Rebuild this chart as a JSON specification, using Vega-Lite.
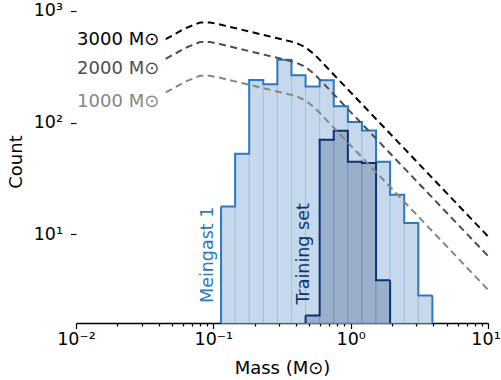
{
  "$schema": "https://vega.github.io/schema/vega-lite/v6.json",
  "width": 412,
  "height": 323,
  "autosize": {"type": "none"},
  "padding": {"left": 76, "top": 0, "right": 13, "bottom": 57},
  "config": {"font": "DejaVu Sans", "view": {"stroke": null}, "axis": {"grid": false}},
  "datasets": {
    "meingast": [
      {"lo": 0.1138, "hi": 0.1441, "n": 17.7},
      {"lo": 0.1441, "hi": 0.1825, "n": 52.5},
      {"lo": 0.1825, "hi": 0.2311, "n": 241},
      {"lo": 0.2311, "hi": 0.2926, "n": 221},
      {"lo": 0.2926, "hi": 0.3707, "n": 365},
      {"lo": 0.3707, "hi": 0.4694, "n": 266},
      {"lo": 0.4694, "hi": 0.5944, "n": 210},
      {"lo": 0.5944, "hi": 0.7528, "n": 240},
      {"lo": 0.7528, "hi": 0.9537, "n": 140},
      {"lo": 0.9537, "hi": 1.208, "n": 101},
      {"lo": 1.208, "hi": 1.53, "n": 84.9},
      {"lo": 1.53, "hi": 1.937, "n": 44.6},
      {"lo": 1.937, "hi": 2.454, "n": 22.5},
      {"lo": 2.454, "hi": 3.108, "n": 12.6},
      {"lo": 3.108, "hi": 3.936, "n": 2.82}
    ],
    "training": [
      {"lo": 0.4694, "hi": 0.5944, "n": 1.87},
      {"lo": 0.5944, "hi": 0.7528, "n": 70.2},
      {"lo": 0.7528, "hi": 0.9537, "n": 84.3},
      {"lo": 0.9537, "hi": 1.208, "n": 44.6},
      {"lo": 1.208, "hi": 1.53, "n": 43.4},
      {"lo": 1.53, "hi": 1.937, "n": 3.86}
    ],
    "imf": [
      {"series": "3000", "m": 0.04498, "n": 558},
      {"series": "3000", "m": 0.06217, "n": 697},
      {"series": "3000", "m": 0.07994, "n": 789},
      {"series": "3000", "m": 0.09456, "n": 789},
      {"series": "3000", "m": 0.1118, "n": 757},
      {"series": "3000", "m": 0.3932, "n": 522},
      {"series": "3000", "m": 0.465, "n": 476},
      {"series": "3000", "m": 0.5498, "n": 404},
      {"series": "3000", "m": 10, "n": 9.55},
      {"series": "2000", "m": 0.04498, "n": 372},
      {"series": "2000", "m": 0.06217, "n": 465},
      {"series": "2000", "m": 0.07994, "n": 526},
      {"series": "2000", "m": 0.09456, "n": 526},
      {"series": "2000", "m": 0.1118, "n": 505},
      {"series": "2000", "m": 0.3932, "n": 348},
      {"series": "2000", "m": 0.465, "n": 317},
      {"series": "2000", "m": 0.5498, "n": 269},
      {"series": "2000", "m": 10, "n": 6.37},
      {"series": "1000", "m": 0.04498, "n": 186},
      {"series": "1000", "m": 0.06217, "n": 232},
      {"series": "1000", "m": 0.07994, "n": 263},
      {"series": "1000", "m": 0.09456, "n": 263},
      {"series": "1000", "m": 0.1118, "n": 252},
      {"series": "1000", "m": 0.3932, "n": 174},
      {"series": "1000", "m": 0.465, "n": 159},
      {"series": "1000", "m": 0.5498, "n": 135},
      {"series": "1000", "m": 10, "n": 3.18}
    ],
    "imflabels": [
      {"series": "3000", "m": 0.0404, "n": 497, "label": "3000 M⊙"},
      {"series": "2000", "m": 0.0404, "n": 273, "label": "2000 M⊙"},
      {"series": "1000", "m": 0.0404, "n": 137, "label": "1000 M⊙"}
    ]
  },
  "layer": [
    {
      "data": {"name": "meingast"},
      "mark": {"type": "rect", "fill": "#c6d9ec", "stroke": "#a2c1e2", "strokeWidth": 1},
      "encoding": {
        "x": {
          "field": "lo", "type": "quantitative",
          "scale": {"type": "log", "domain": [0.01, 10], "nice": false},
          "axis": {
            "title": "Mass (M⊙)",
            "values": [0.01, 0.02, 0.03, 0.04, 0.05, 0.06, 0.07, 0.08, 0.09, 0.1, 0.2, 0.3, 0.4, 0.5, 0.6, 0.7, 0.8, 0.9, 1, 2, 3, 4, 5, 6, 7, 8, 9, 10],
            "labelExpr": "datum.value == 0.01 ? '10⁻²' : datum.value == 0.1 ? '10⁻¹' : datum.value == 1 ? '10⁰' : datum.value == 10 ? '10¹' : ''",
            "tickSize": {"condition": {"test": "datum.value == 0.01 || datum.value == 0.1 || datum.value == 1 || datum.value == 10", "value": 5.5}, "value": 3},
            "labelOffset": {"condition": {"test": "datum.value == 10", "value": -2.5}, "value": 0},
            "tickWidth": 1.2,
            "tickColor": "#000000",
            "domainColor": "#000000",
            "domainWidth": 1.5,
            "labelFontSize": 17.5,
            "labelColor": "#000000",
            "labelFlush": false,
            "labelOverlap": false,
            "labelPadding": 2,
            "titleFontSize": 18,
            "titleFontWeight": "normal",
            "titleColor": "#000000",
            "titlePadding": 11
          }
        },
        "x2": {"field": "hi"},
        "y": {
          "field": "n", "type": "quantitative",
          "scale": {"type": "log", "domain": [1.6, 1254], "nice": false},
          "axis": {
            "title": "Count",
            "values": [10, 100, 1000],
            "labelExpr": "datum.value == 10 ? '10¹' : datum.value == 100 ? '10²' : '10³'",
            "domain": false,
            "tickSize": 5.5,
            "tickWidth": 1.2,
            "tickColor": "#000000",
            "labelFontSize": 17.5,
            "labelColor": "#000000",
            "labelPadding": 8,
            "titleFontSize": 18,
            "titleFontWeight": "normal",
            "titleColor": "#000000",
            "titlePadding": 8
          }
        },
        "y2": {"datum": 1.6}
      }
    },
    {
      "data": {"name": "training"},
      "mark": {"type": "rect", "fill": "#9aafcc", "stroke": "#7891b7", "strokeWidth": 1},
      "encoding": {
        "x": {"field": "lo", "type": "quantitative"},
        "x2": {"field": "hi"},
        "y": {"field": "n", "type": "quantitative"},
        "y2": {"datum": 1.6}
      }
    },
    {
      "data": {"name": "meingast"},
      "transform": [{"fold": ["lo", "hi"], "as": ["side", "m"]}],
      "mark": {"type": "line", "color": "#2e78bd", "strokeWidth": 2, "strokeJoin": "miter"},
      "encoding": {
        "x": {"field": "m", "type": "quantitative"},
        "y": {"field": "n", "type": "quantitative"},
        "order": [{"field": "m", "type": "quantitative"}, {"field": "side", "type": "nominal"}]
      }
    },
    {
      "data": {"name": "meingast"},
      "transform": [{"joinaggregate": [{"op": "min", "field": "lo", "as": "minlo"}]}, {"filter": "datum.lo == datum.minlo"}],
      "mark": {"type": "rule", "color": "#2e78bd", "strokeWidth": 2},
      "encoding": {
        "x": {"field": "lo", "type": "quantitative"},
        "y": {"field": "n", "type": "quantitative"},
        "y2": {"datum": 1.6}
      }
    },
    {
      "data": {"name": "meingast"},
      "transform": [{"joinaggregate": [{"op": "max", "field": "hi", "as": "maxhi"}]}, {"filter": "datum.hi == datum.maxhi"}],
      "mark": {"type": "rule", "color": "#2e78bd", "strokeWidth": 2},
      "encoding": {
        "x": {"field": "hi", "type": "quantitative"},
        "y": {"field": "n", "type": "quantitative"},
        "y2": {"datum": 1.6}
      }
    },
    {
      "data": {"name": "training"},
      "transform": [{"fold": ["lo", "hi"], "as": ["side", "m"]}],
      "mark": {"type": "line", "color": "#0b3472", "strokeWidth": 2, "strokeJoin": "miter"},
      "encoding": {
        "x": {"field": "m", "type": "quantitative"},
        "y": {"field": "n", "type": "quantitative"},
        "order": [{"field": "m", "type": "quantitative"}, {"field": "side", "type": "nominal"}]
      }
    },
    {
      "data": {"name": "training"},
      "transform": [{"joinaggregate": [{"op": "min", "field": "lo", "as": "minlo"}]}, {"filter": "datum.lo == datum.minlo"}],
      "mark": {"type": "rule", "color": "#0b3472", "strokeWidth": 2},
      "encoding": {
        "x": {"field": "lo", "type": "quantitative"},
        "y": {"field": "n", "type": "quantitative"},
        "y2": {"datum": 1.6}
      }
    },
    {
      "data": {"name": "training"},
      "transform": [{"joinaggregate": [{"op": "max", "field": "hi", "as": "maxhi"}]}, {"filter": "datum.hi == datum.maxhi"}],
      "mark": {"type": "rule", "color": "#0b3472", "strokeWidth": 2},
      "encoding": {
        "x": {"field": "hi", "type": "quantitative"},
        "y": {"field": "n", "type": "quantitative"},
        "y2": {"datum": 1.6}
      }
    },
    {
      "data": {"name": "imf"},
      "mark": {"type": "line", "strokeWidth": 2, "strokeDash": [7, 4.5]},
      "encoding": {
        "x": {"field": "m", "type": "quantitative"},
        "y": {"field": "n", "type": "quantitative"},
        "color": {"field": "series", "type": "nominal", "scale": {"domain": ["3000", "2000", "1000"], "range": ["#000000", "#4d4d4d", "#858585"]}, "legend": null},
        "order": {"field": "m", "type": "quantitative"}
      }
    },
    {
      "data": {"name": "imflabels"},
      "mark": {"type": "text", "align": "right", "baseline": "alphabetic", "fontSize": 18},
      "encoding": {
        "x": {"field": "m", "type": "quantitative"},
        "y": {"field": "n", "type": "quantitative"},
        "text": {"field": "label"},
        "color": {"field": "series", "type": "nominal", "legend": null}
      }
    },
    {
      "data": {"values": [{"m": 0.0915, "n": 2.42, "label": "Meingast 1"}]},
      "mark": {"type": "text", "angle": 270, "align": "left", "baseline": "middle", "fontSize": 17.5, "color": "#2e78bd"},
      "encoding": {
        "x": {"field": "m", "type": "quantitative"},
        "y": {"field": "n", "type": "quantitative"},
        "text": {"field": "label"}
      }
    },
    {
      "data": {"values": [{"m": 0.454, "n": 2.34, "label": "Training set"}]},
      "mark": {"type": "text", "angle": 270, "align": "left", "baseline": "middle", "fontSize": 17.5, "color": "#0b3472"},
      "encoding": {
        "x": {"field": "m", "type": "quantitative"},
        "y": {"field": "n", "type": "quantitative"},
        "text": {"field": "label"}
      }
    }
  ]
}
